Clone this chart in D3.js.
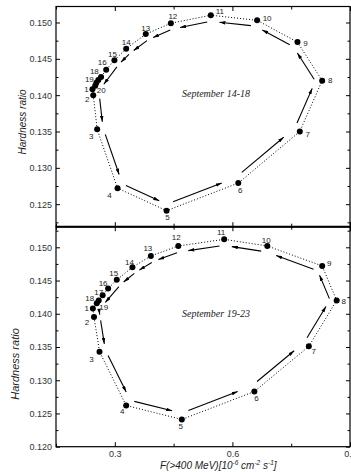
<!DOCTYPE html>
<html>
<head>
<meta charset="utf-8">
<script src="https://cdn.jsdelivr.net/npm/d3@7"></script>
<style>
  body { margin: 0; background: #fff; }
  svg { display: block; }
</style>
</head>
<body>
<div id="chart"></div>
<script>
// values (flux in 10^-6 cm^-2 s^-1, hardness ratio)
const topFlux  = [0.243, 0.245, 0.255, 0.307, 0.432, 0.615, 0.772, 0.829, 0.766, 0.663,
                  0.545, 0.443, 0.379, 0.329, 0.299, 0.278, 0.265, 0.258, 0.253, 0.250];
const topRatio = [0.1408, 0.1400, 0.1353, 0.1272, 0.1241, 0.1279, 0.1350, 0.1420, 0.1473, 0.1503,
                  0.1510, 0.1499, 0.1484, 0.1464, 0.1448, 0.1435, 0.1425, 0.1421, 0.1417, 0.1413];
const botFlux  = [0.244, 0.247, 0.261, 0.329, 0.471, 0.656, 0.795, 0.866, 0.829, 0.689,
                  0.579, 0.462, 0.392, 0.345, 0.305, 0.283, 0.269, 0.259, 0.254];
const botRatio = [0.1408, 0.1395, 0.1343, 0.1262, 0.1241, 0.1283, 0.1351, 0.1420, 0.1472, 0.1502,
                  0.1512, 0.1502, 0.1487, 0.1470, 0.1451, 0.1438, 0.1428, 0.1420, 0.1416];

// direction arrows: from point -> to point (1-based numbers)
const topArrows = [[2,3],[3,4],[4,5],[5,6],[6,7],[7,8],[8,9],[9,10],[10,11],[11,12],[12,13],[13,14],[14,15],[15,20]];
const botArrows = [[1,2],[2,3],[3,4],[4,5],[5,6],[6,7],[7,8],[8,9],[9,10],[10,11],[11,12],[12,13],[13,14],[14,15],[15,19]];

const xTickLabels = [0.3, 0.6, 0.9];
const xMinorTicks = [0.15, 0.45, 0.75];
const yTickLabels = [0.120, 0.125, 0.130, 0.135, 0.140, 0.145, 0.150];

// label placement around each dot (px), layout only
const topLabelShift = [[-6,0],[-6,4],[-6,7],[-8,7],[1,7],[2,7],[8,3],[8,0],[8,1],[10,-2],
                       [9,-4],[2,-7],[0,-6],[0,-6],[-2,-6],[-4,-7],null,[-4,-8],[-7,-3],[6,5]];
const botLabelShift = [[-6,0],[-7,5],[-8,8],[-4,6],[-1,7],[2,7],[5,5],[7,1],[7,-2],[-1,-5],
                       [-3,-7],[-2,-8],[-3,-7],[-3,-5],[-3,-6],[-5,-5],[-4,-3],[-9,-2],[7,4]];

const width = 351, height = 472;
const left = 56, right = 350;

const svg = d3.select("#chart").append("svg")
  .attr("width", width).attr("height", height)
  .style("font-family", "Arial, 'Liberation Sans', sans-serif");

svg.append("defs").append("marker")
  .attr("id", "ah")
  .attr("viewBox", "0 0 10 6")
  .attr("refX", 10).attr("refY", 3)
  .attr("markerWidth", 6).attr("markerHeight", 3.6)
  .attr("markerUnits", "userSpaceOnUse")
  .attr("orient", "auto")
  .append("path").attr("d", "M0,0L10,3L0,6Z").attr("fill", "#000");

const x = d3.scaleLinear().domain([0.15, 0.9]).range([left, right]);
const yTop = d3.scaleLinear().domain([0.1219, 0.1522]).range([226.7, 6.5]);
const yBot = d3.scaleLinear().domain([0.120, 0.1531]).range([446.7, 226.7]);

function drawPanel(flux, ratio, arrows, y, shifts, note, noteY, showX) {
  const g = svg.append("g");
  const [y0, y1] = y.range();
  const [d0, d1] = y.domain();
  const majors = yTickLabels.filter(v => v >= d0 - 1e-9 && v <= d1 + 1e-9);
  const minors = yTickLabels.map(v => v + 0.0025).concat([0.1175])
    .filter(v => v > d0 && v < d1);

  const style = sel => {
    sel.select(".domain").remove();
    sel.selectAll("line").attr("stroke", "#000").attr("stroke-width", 1);
    sel.selectAll("text").attr("fill", "#333").style("font-size", "9px");
  };

  g.append("g").attr("transform", `translate(${left},0)`)
    .call(d3.axisLeft(y).tickValues(majors).tickSize(-4).tickPadding(4).tickFormat(d3.format(".3f")))
    .call(style);
  g.append("g").attr("transform", `translate(${left},0)`)
    .call(d3.axisLeft(y).tickValues(minors).tickSize(-2.5).tickFormat(""))
    .call(style);
  g.append("g").attr("transform", `translate(${right},0)`)
    .call(d3.axisRight(y).tickValues(majors).tickSize(-4).tickFormat(""))
    .call(style);
  g.append("g").attr("transform", `translate(${right},0)`)
    .call(d3.axisRight(y).tickValues(minors).tickSize(-2.5).tickFormat(""))
    .call(style);

  g.append("g").attr("transform", `translate(0,${y0})`)
    .call(d3.axisBottom(x).tickValues(xTickLabels).tickSize(-4.5).tickPadding(4)
      .tickFormat(showX ? d3.format(".1f") : ""))
    .call(style);
  g.append("g").attr("transform", `translate(0,${y0})`)
    .call(d3.axisBottom(x).tickValues(xMinorTicks).tickSize(-3).tickFormat(""))
    .call(style);
  g.append("g").attr("transform", `translate(0,${y1})`)
    .call(d3.axisTop(x).tickValues(xTickLabels).tickSize(-4.5).tickFormat(""))
    .call(style);
  g.append("g").attr("transform", `translate(0,${y1})`)
    .call(d3.axisTop(x).tickValues(xMinorTicks).tickSize(-3).tickFormat(""))
    .call(style);

  g.append("rect")
    .attr("x", left).attr("y", y1)
    .attr("width", right - left).attr("height", y0 - y1)
    .attr("fill", "none").attr("stroke", "#000").attr("stroke-width", 1.2);

  const pts = flux.map((f, i) => [x(f), y(ratio[i])]);

  g.append("path")
    .datum(pts)
    .attr("d", d3.line().curve(d3.curveLinearClosed))
    .attr("fill", "none")
    .attr("stroke", "#000")
    .attr("stroke-width", 1)
    .attr("stroke-dasharray", "1,2");

  // arrows run parallel to the track, shifted to the inside
  const off = 6, t0 = 0.12, t1 = 0.8;
  g.selectAll(".arrow")
    .data(arrows)
    .join("line")
    .attr("class", "arrow")
    .each(function([a, b]) {
      const p = pts[a - 1], q = pts[b - 1];
      const dx = q[0] - p[0], dy = q[1] - p[1];
      const len = Math.hypot(dx, dy);
      const nx = dy / len * off, ny = -dx / len * off;
      d3.select(this)
        .attr("x1", p[0] + dx * t0 + nx).attr("y1", p[1] + dy * t0 + ny)
        .attr("x2", p[0] + dx * t1 + nx).attr("y2", p[1] + dy * t1 + ny);
    })
    .attr("stroke", "#000")
    .attr("stroke-width", 1.1)
    .attr("marker-end", "url(#ah)");

  g.selectAll(".dot")
    .data(pts)
    .join("circle")
    .attr("class", "dot")
    .attr("cx", d => d[0]).attr("cy", d => d[1])
    .attr("r", 3)
    .attr("fill", "#000");

  g.selectAll(".num")
    .data(pts.map((p, i) => ({ p, i, s: shifts[i] })).filter(d => d.s))
    .join("text")
    .attr("class", "num")
    .attr("x", d => d.p[0] + d.s[0])
    .attr("y", d => d.p[1] + d.s[1])
    .attr("text-anchor", "middle")
    .attr("dominant-baseline", "central")
    .style("font-size", "8px")
    .attr("fill", "#222")
    .text(d => d.i + 1);

  g.append("text")
    .attr("x", 216).attr("y", noteY)
    .attr("text-anchor", "middle")
    .attr("dominant-baseline", "central")
    .style("font-family", "'Liberation Serif', 'Times New Roman', serif")
    .style("font-style", "italic")
    .style("font-size", "10px")
    .attr("fill", "#222")
    .text(note);
}

drawPanel(topFlux, topRatio, topArrows, yTop, topLabelShift, "September 14-18", 93, false);
drawPanel(botFlux, botRatio, botArrows, yBot, botLabelShift, "September 19-23", 313, true);

// thick junction between the panels
svg.append("line")
  .attr("x1", left).attr("x2", right)
  .attr("y1", 226.7).attr("y2", 226.7)
  .attr("stroke", "#000").attr("stroke-width", 2);

// axis titles
svg.append("text")
  .attr("transform", "translate(22,122) rotate(-90)")
  .attr("text-anchor", "middle")
  .attr("dominant-baseline", "central")
  .style("font-style", "italic").style("font-size", "10px")
  .attr("fill", "#222")
  .text("Hardness ratio");

svg.append("text")
  .attr("transform", "translate(15,364) rotate(-90)")
  .attr("text-anchor", "middle")
  .attr("dominant-baseline", "central")
  .style("font-style", "italic").style("font-size", "11px")
  .attr("fill", "#222")
  .text("Hardness ratio");

const xt = svg.append("text")
  .attr("x", 160).attr("y", 469)
  .style("font-style", "italic").style("font-size", "10px")
  .attr("fill", "#222");
xt.append("tspan").text("F(>400 MeV)[10");
xt.append("tspan").attr("dy", -4).style("font-size", "6.5px").text("-6");
xt.append("tspan").attr("dy", 4).text(" cm");
xt.append("tspan").attr("dy", -4).style("font-size", "6.5px").text("-2");
xt.append("tspan").attr("dy", 4).text(" s");
xt.append("tspan").attr("dy", -4).style("font-size", "6.5px").text("-1");
xt.append("tspan").attr("dy", 4).text("]");
</script>
</body>
</html>
